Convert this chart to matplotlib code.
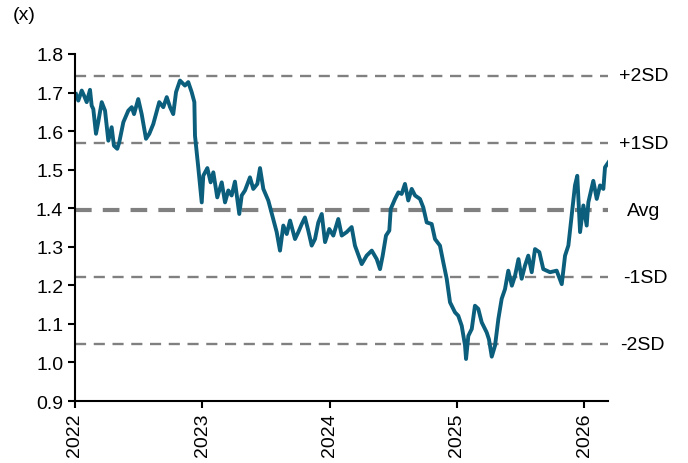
import numpy as np
import matplotlib.pyplot as plt

plt.rcParams['font.family'] = ['Liberation Sans', 'DejaVu Sans']
plt.rcParams['lines.scale_dashes'] = False

# decimal year, multiple (x)
years = [2022.008, 2022.026, 2022.053, 2022.071, 2022.092, 2022.118, 2022.131, 2022.144,
         2022.165, 2022.183, 2022.210, 2022.236, 2022.249, 2022.262, 2022.288, 2022.306,
         2022.332, 2022.348, 2022.380, 2022.419, 2022.446, 2022.464, 2022.497, 2022.524,
         2022.558, 2022.584, 2022.615, 2022.662, 2022.694, 2022.721, 2022.747, 2022.772,
         2022.794, 2022.825, 2022.864, 2022.890, 2022.917, 2022.938, 2022.943, 2022.969,
         2022.996, 2023.008, 2023.040, 2023.066, 2023.087, 2023.118, 2023.153, 2023.179,
         2023.205, 2023.231, 2023.257, 2023.291, 2023.310, 2023.336, 2023.375, 2023.401,
         2023.433, 2023.454, 2023.480, 2023.519, 2023.558, 2023.585, 2023.611, 2023.637,
         2023.664, 2023.690, 2023.729, 2023.755, 2023.782, 2023.807, 2023.833, 2023.860,
         2023.886, 2023.912, 2023.939, 2023.965, 2023.998, 2024.030, 2024.069, 2024.096,
         2024.135, 2024.174, 2024.200, 2024.253, 2024.292, 2024.332, 2024.371, 2024.397,
         2024.418, 2024.444, 2024.470, 2024.481, 2024.515, 2024.541, 2024.567, 2024.593,
         2024.619, 2024.646, 2024.672, 2024.711, 2024.737, 2024.764, 2024.803, 2024.829,
         2024.868, 2024.894, 2024.921, 2024.947, 2024.986, 2025.012, 2025.039, 2025.065,
         2025.073, 2025.091, 2025.118, 2025.143, 2025.169, 2025.196, 2025.235, 2025.253,
         2025.275, 2025.301, 2025.327, 2025.353, 2025.379, 2025.405, 2025.433, 2025.458,
         2025.485, 2025.510, 2025.536, 2025.562, 2025.589, 2025.615, 2025.649, 2025.680,
         2025.733, 2025.785, 2025.825, 2025.851, 2025.877, 2025.903, 2025.929, 2025.947,
         2025.969, 2025.995, 2026.021, 2026.034, 2026.073, 2026.100, 2026.126, 2026.152,
         2026.165, 2026.192]
values = [1.696, 1.679, 1.705, 1.692, 1.675, 1.707, 1.666, 1.657,
          1.593, 1.624, 1.675, 1.653, 1.614, 1.575, 1.610, 1.562,
          1.554, 1.571, 1.623, 1.653, 1.662, 1.644, 1.683, 1.644,
          1.580, 1.593, 1.618, 1.675, 1.662, 1.688, 1.662, 1.644,
          1.701, 1.731, 1.718, 1.727, 1.701, 1.675, 1.588, 1.505,
          1.415, 1.484, 1.504, 1.467, 1.493, 1.428, 1.467, 1.415,
          1.446, 1.433, 1.469, 1.385, 1.433, 1.446, 1.480, 1.450,
          1.463, 1.504, 1.450, 1.420, 1.372, 1.338, 1.290, 1.355,
          1.333, 1.368, 1.320, 1.338, 1.359, 1.376, 1.342, 1.303,
          1.320, 1.363, 1.385, 1.312, 1.346, 1.329, 1.372, 1.329,
          1.338, 1.351, 1.303, 1.255, 1.277, 1.290, 1.268, 1.242,
          1.277, 1.329, 1.342, 1.398, 1.424, 1.441, 1.437, 1.463,
          1.420, 1.450, 1.433, 1.424, 1.402, 1.363, 1.359, 1.320,
          1.303, 1.260, 1.217, 1.156, 1.130, 1.121, 1.095, 1.044,
          1.009, 1.069, 1.087, 1.147, 1.139, 1.104, 1.078, 1.060,
          1.015, 1.044, 1.113, 1.165, 1.190, 1.238, 1.199, 1.225,
          1.268, 1.217, 1.251, 1.277, 1.234, 1.294, 1.286, 1.242,
          1.234, 1.238, 1.203, 1.277, 1.303, 1.381, 1.459, 1.484,
          1.338, 1.407, 1.355, 1.415, 1.471, 1.424, 1.459, 1.450,
          1.506, 1.519]

avg = 1.395
sd = 0.174
band_labels = ['+2SD', '+1SD', 'Avg', '-1SD', '-2SD']
band_mult = [2, 1, 0, -1, -2]
label_x = [1.021, 1.021, 1.036, 1.028, 1.023]

fig = plt.figure(figsize=(6.88, 4.64), dpi=100)
ax = fig.add_axes([0.109, 0.1336, 0.775, 0.748])

for lab, m, lx in zip(band_labels, band_mult, label_x):
    yv = avg + m * sd
    if m == 0:
        ax.axhline(yv, color='#808080', lw=3, dashes=(12, 8), zorder=1)
    else:
        ax.axhline(yv, color='#808080', lw=1.7, dashes=(8, 5.5), zorder=1)
    ax.text(lx, yv, lab, transform=ax.get_yaxis_transform(), ha='left', va='center',
            fontsize=14, clip_on=False)

ax.plot(years, values, color='#0b5f7d', lw=2.8, zorder=2)

ax.set_xlim(2022, 2026.19)
ax.set_ylim(0.9, 1.8)
ax.set_xticks([2022, 2023, 2024, 2025, 2026])
ax.set_xticklabels(['2022', '2023', '2024', '2025', '2026'], rotation=90)
ax.set_yticks(np.arange(0.9, 1.81, 0.1))
ax.set_yticklabels(['%.1f' % v for v in np.arange(0.9, 1.81, 0.1)])
ax.tick_params(labelsize=14, width=1.5, length=5, direction='out')
for s in ['top', 'right']:
    ax.spines[s].set_visible(False)
for s in ['left', 'bottom']:
    ax.spines[s].set_linewidth(1.5)

fig.text(13 / 688, 1 - 16 / 464, '(x)', fontsize=14, va='center', ha='left')

fig.savefig('out.png', dpi=100)
